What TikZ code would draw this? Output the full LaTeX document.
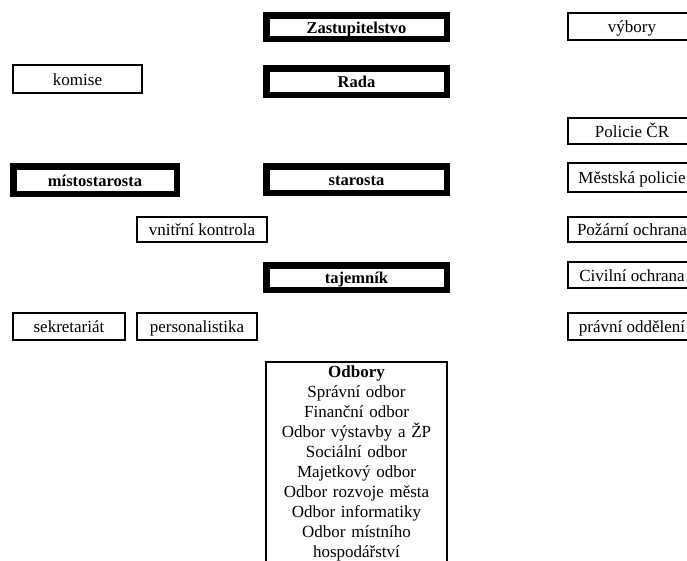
\documentclass[tikz,border=0pt]{standalone}
\usepackage{fontspec}
\setmainfont{Liberation Serif}
\begin{document}
\begin{tikzpicture}[x=1pt,y=-1pt,
  heavybox/.style={draw, line width=6.5pt, inner sep=0pt, text height=14pt, text depth=2pt, font=\fontsize{16.5}{20}\selectfont\bfseries},
  lightbox/.style={draw, line width=1.3pt, inner sep=0pt, text height=14pt, text depth=2pt, font=\fontsize{17}{20}\selectfont},
  listbox/.style={inner sep=0pt, align=center, text width=175pt, font=\fontsize{17}{20}\selectfont}
]
\useasboundingbox (0,0) rectangle (687,560);
\clip (0,0) rectangle (687,560);
% central column (heavy boxes)
\node[heavybox, minimum width=180.5pt, minimum height=23.5pt] (zast) at (356.5,27) {Zastupitelstvo};
\node[heavybox, minimum width=180.5pt, minimum height=26.5pt] (rada) at (356.5,81.5) {Rada};
\node[heavybox, minimum width=180.5pt, minimum height=26.5pt] (star) at (356.5,179.5) {starosta};
\node[heavybox, minimum width=180.5pt, minimum height=24.5pt] (taj) at (356.5,277.5) {tajemník};
\node[heavybox, minimum width=163.5pt, minimum height=27.5pt] (mist) at (95,180) {místostarosta};
% left light boxes
\node[lightbox, minimum width=129pt, minimum height=28pt] (kom) at (77.5,79) {komise};
\node[lightbox, minimum width=130pt, minimum height=25pt] (vnk) at (202,229.5) {vnitřní kontrola};
\node[lightbox, minimum width=112pt, minimum height=27pt] (sekr) at (69,326.5) {sekretariát};
\node[lightbox, minimum width=120pt, minimum height=27pt] (pers) at (197,326.5) {personalistika};
% right light boxes
\node[lightbox, minimum width=128pt, minimum height=27pt] (vyb) at (632,26.5) {výbory};
\node[lightbox, minimum width=128pt, minimum height=26pt] (pol) at (632,131) {Policie ČR};
\node[lightbox, minimum width=128pt, minimum height=29pt] (mp) at (632,177.5) {Městská policie};
\node[lightbox, minimum width=128pt, minimum height=25pt] (po) at (632,229.5) {Požární ochrana};
\node[lightbox, minimum width=128pt, minimum height=26pt] (co) at (632,275) {Civilní ochrana};
\node[lightbox, minimum width=128pt, minimum height=27pt] (pro) at (632,326.5) {právní oddělení};
% Odbory
\node[listbox, anchor=north] (odb) at (356.5,365) {\textbf{Odbory}\\Správní odbor\\Finanční odbor\\Odbor výstavby a ŽP\\Sociální odbor\\Majetkový odbor\\Odbor rozvoje města\\Odbor informatiky\\Odbor místního\\hospodářství};
\coordinate (odbtl) at (266,362);
\coordinate (odbtr) at (447,362);
\coordinate (odbbl) at (266,575);
\coordinate (odbbr) at (447,575);
\draw[line width=1.3pt] (odbbl) -- (odbtl) -- (odbtr) -- (odbbr);
\end{tikzpicture}
\end{document}
